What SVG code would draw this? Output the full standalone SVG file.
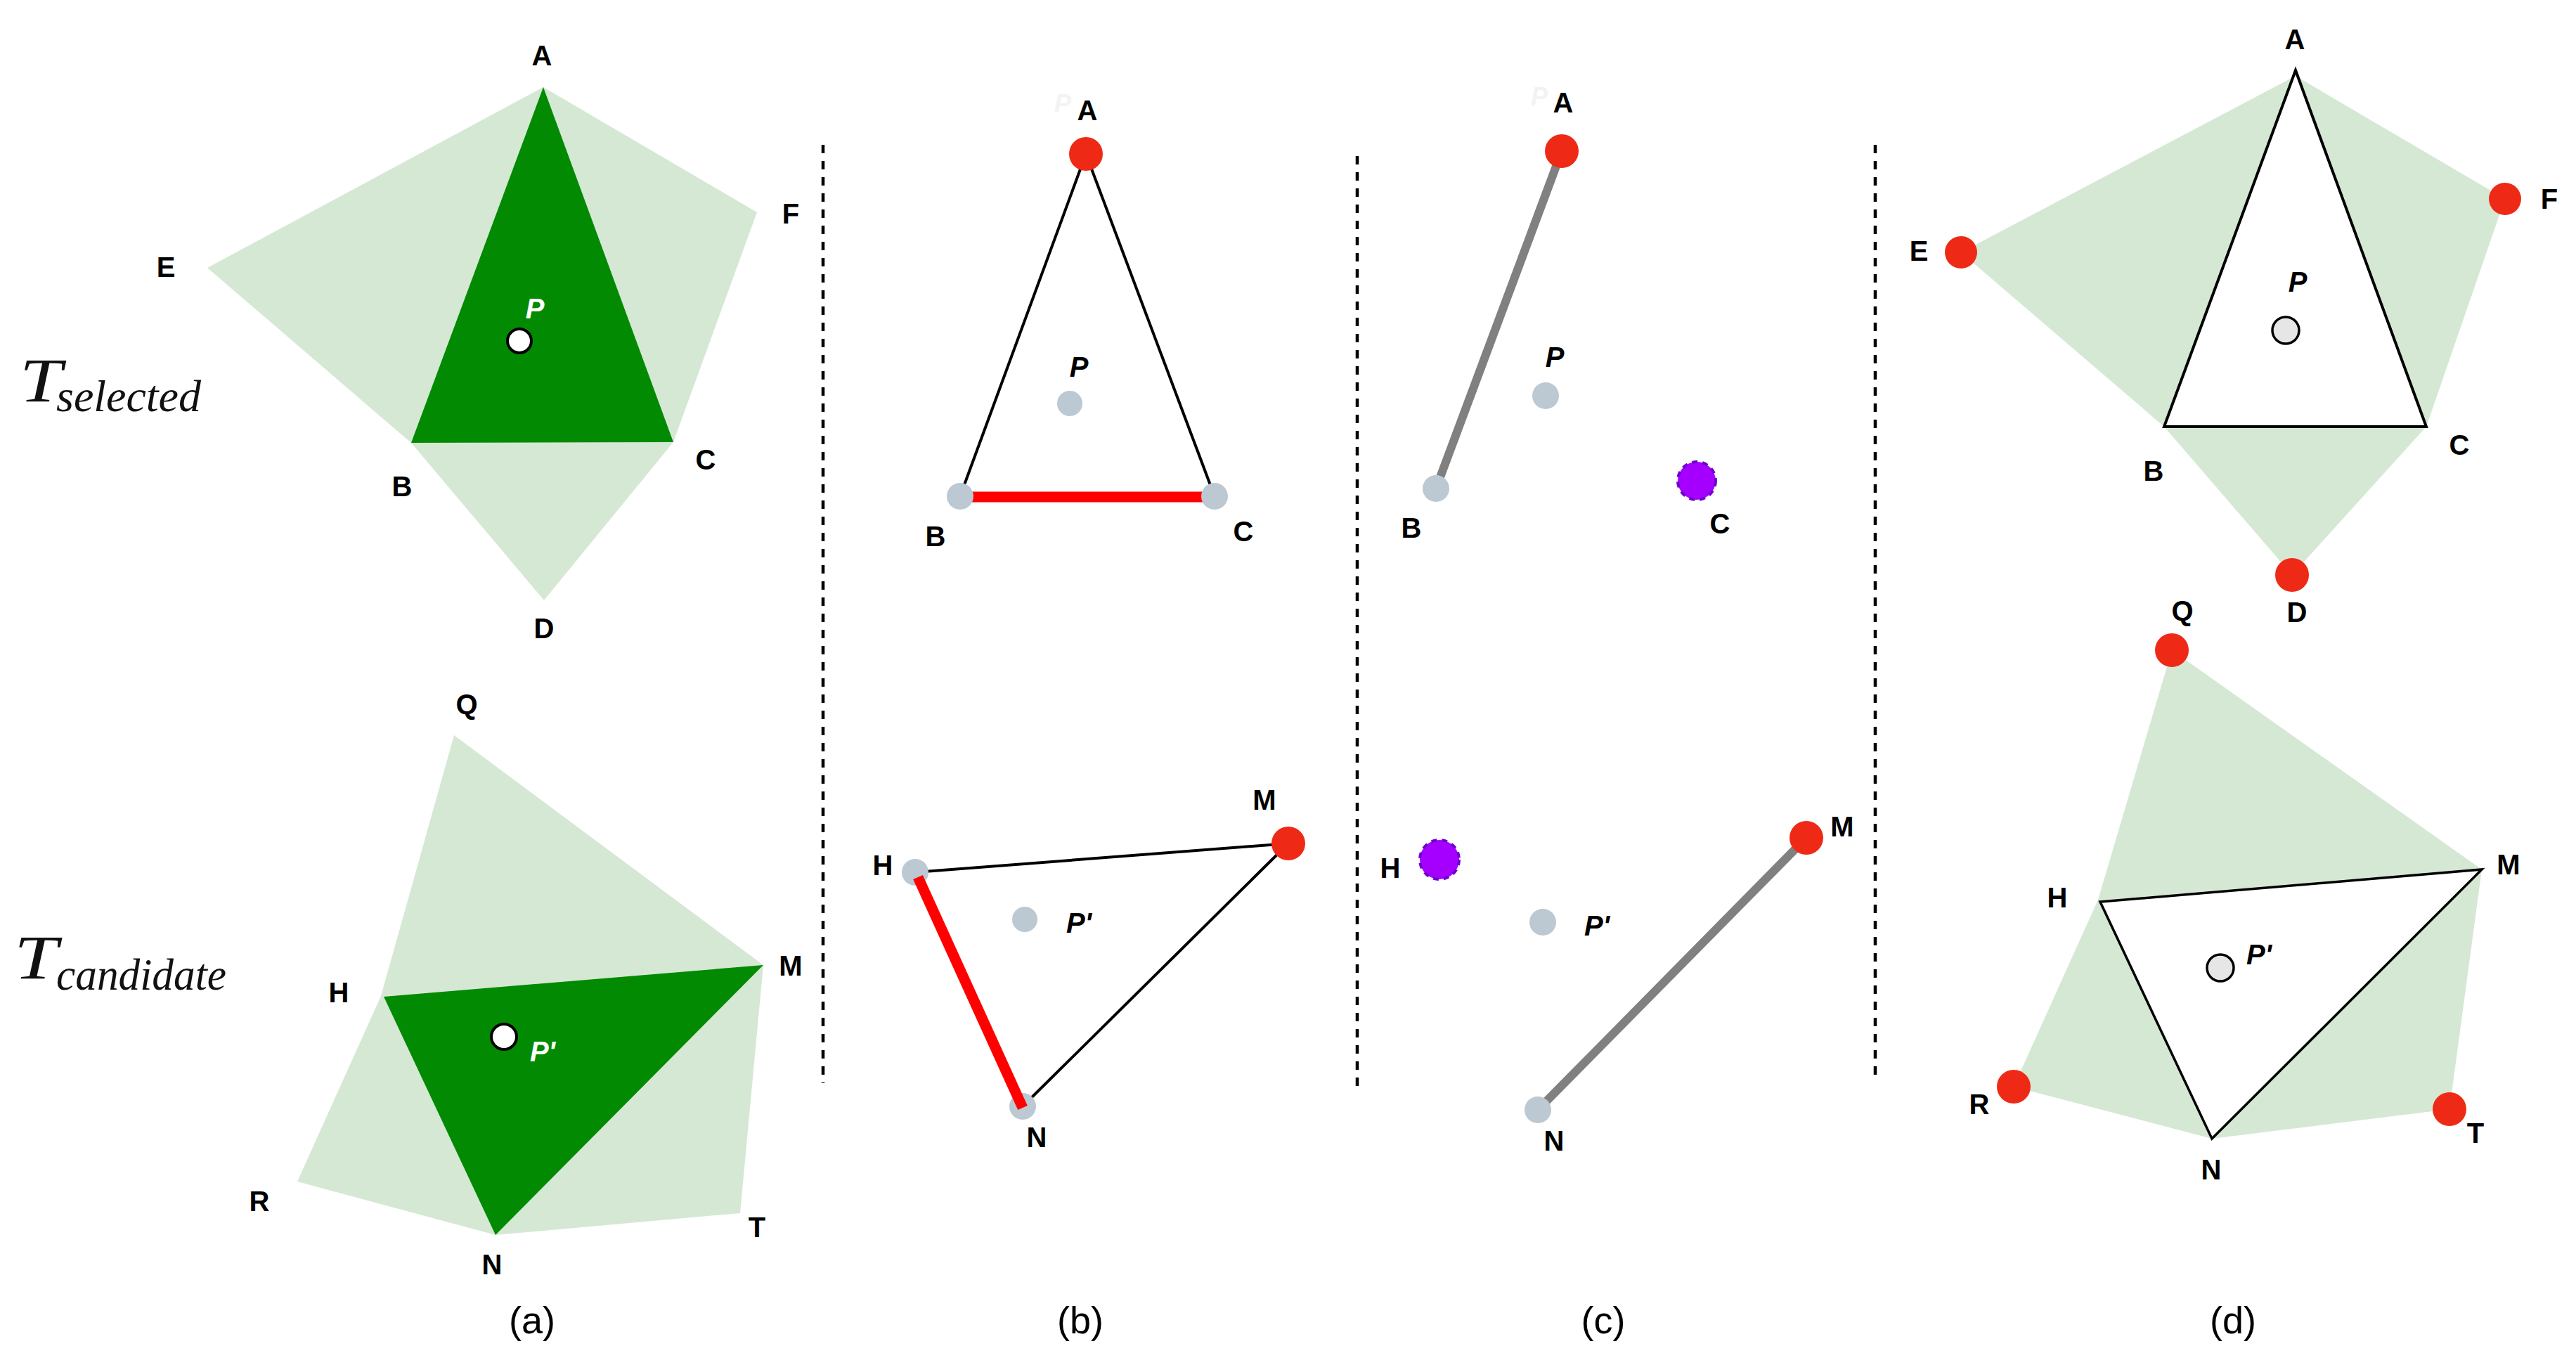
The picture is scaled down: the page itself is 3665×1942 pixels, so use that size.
<svg xmlns="http://www.w3.org/2000/svg" width="3665" height="1942" viewBox="0 0 3665 1942">
<style>
.lbl{font-family:"Liberation Sans",Arial,sans-serif;font-weight:bold;font-size:40px;fill:#000;text-anchor:middle}
.plbl{font-family:"Liberation Sans",Arial,sans-serif;font-weight:bold;font-style:italic;font-size:40px;fill:#000;text-anchor:middle}
.wlbl{font-family:"Liberation Sans",Arial,sans-serif;font-weight:bold;font-style:italic;font-size:40px;fill:#fff;text-anchor:middle}
.ghost{font-family:"Liberation Sans",Arial,sans-serif;font-weight:bold;font-style:italic;font-size:36px;fill:#f3f3f3;text-anchor:middle}
.cap{font-family:"Liberation Sans",Arial,sans-serif;font-size:54px;fill:#000;text-anchor:middle}
.math{font-family:"Liberation Serif","Times New Roman",serif;font-style:italic;fill:#111}
.light{fill:#d5e8d4}
.dark{fill:#028a02}
.red{fill:#ee2a16}
.gray{fill:#bcc8d2}
.purple{fill:#a500ff;stroke:#7000d0;stroke-width:4;stroke-dasharray:8 7}
.sep{stroke:#000;stroke-width:4.5;stroke-dasharray:12 11;fill:none}
.edge{stroke:#000;stroke-width:4;fill:none}
.redge{stroke:#ff0000;stroke-width:15;fill:none}
.gedge{stroke:#808080;stroke-width:12;fill:none}
</style>

<!-- separators -->
<g id="separators">
<line class="sep" x1="1171" y1="206" x2="1171" y2="1541"/>
<line class="sep" x1="1931" y1="222" x2="1931" y2="1554"/>
<line class="sep" x1="2668" y1="206" x2="2668" y2="1535"/>
</g>

<!-- row labels -->
<g id="label-tselected">
<text class="math" x="28" y="571" font-size="88" textLength="60" lengthAdjust="spacingAndGlyphs">T</text>
<text class="math" x="80" y="585" font-size="63" textLength="206" lengthAdjust="spacingAndGlyphs">selected</text>
</g>
<g id="label-tcandidate">
<text class="math" x="20" y="1392" font-size="88" textLength="62" lengthAdjust="spacingAndGlyphs">T</text>
<text class="math" x="80" y="1408" font-size="63" textLength="242" lengthAdjust="spacingAndGlyphs">candidate</text>
</g>

<!-- Panel (a) -->
<g id="panel-a-top">
<polygon class="light" points="295,381 773,124 1077,302 958,629 774,854 585,630"/>
<polygon class="dark" points="773,124 958,629 585,630"/>
</g>
<g id="panel-a-bottom">
<polygon class="light" points="646,1046 1086,1373 1053,1726 705,1757 423,1681 542,1417"/>
<polygon class="dark" points="546,1418 1086,1373 705,1757"/>
</g>

<!-- Connectors -->
<g id="connectors">
<line class="edge" x1="1545" y1="219" x2="1366" y2="706"/>
<line class="edge" x1="1545" y1="219" x2="1728" y2="706"/>
<line class="redge" x1="1366" y1="707" x2="1728" y2="707"/>
<line class="edge" x1="1302" y1="1241" x2="1833" y2="1200"/>
<line class="edge" x1="1833" y1="1200" x2="1455" y2="1574" stroke-width="3"/>
<line class="edge" x1="1302" y1="1241" x2="1455" y2="1574" stroke-width="3"/>
<line class="gedge" x1="2222" y1="215" x2="2043" y2="695"/>
<line class="gedge" x1="2570" y1="1192" x2="2188" y2="1579"/>
</g>

<!-- Panel (d) fills and triangles -->
<g id="panel-d-top">
<polygon class="light" points="2790,359 3266,108 3564,283 3452,607 3261,818 3079,607"/>
<polygon fill="#fff" stroke="#000" stroke-width="4" points="3266,100 3452,607 3079,607"/>
</g>
<g id="panel-d-bottom">
<polygon class="light" points="3090,925 3531,1237 3485,1578 3147,1620 2865,1546 2985,1280"/>
<polygon fill="#fff" stroke="#000" stroke-width="3.5" points="2988,1283 3531,1237 3147,1620"/>
</g>

<!-- Nodes panel (a) top -->
<g id="a-A"><text class="lbl" x="771" y="93">A</text></g>
<g id="a-E"><text class="lbl" x="236" y="394">E</text></g>
<g id="a-F"><text class="lbl" x="1125" y="318">F</text></g>
<g id="a-B"><text class="lbl" x="572" y="706">B</text></g>
<g id="a-C"><text class="lbl" x="1004" y="668">C</text></g>
<g id="a-D"><text class="lbl" x="774" y="908">D</text></g>
<g id="a-P"><circle cx="739" cy="485" r="17" fill="#fff" stroke="#000" stroke-width="4"/><text class="wlbl" x="761" y="453">P</text></g>

<!-- Nodes panel (a) bottom -->
<g id="a-Q"><text class="lbl" x="664" y="1016">Q</text></g>
<g id="a-M"><text class="lbl" x="1125" y="1388">M</text></g>
<g id="a-H"><text class="lbl" x="482" y="1426">H</text></g>
<g id="a-R"><text class="lbl" x="369" y="1723">R</text></g>
<g id="a-T"><text class="lbl" x="1077" y="1760">T</text></g>
<g id="a-N"><text class="lbl" x="700" y="1813">N</text></g>
<g id="a-Pp"><circle cx="717" cy="1475" r="18" fill="#fff" stroke="#000" stroke-width="4"/><text class="wlbl" x="772" y="1510">P'</text></g>

<!-- Nodes panel (b) top -->
<g id="b-A"><text class="ghost" x="1512" y="160">P</text><circle class="red" cx="1545" cy="219" r="24"/><text class="lbl" x="1547" y="171">A</text></g>
<g id="b-B"><circle class="gray" cx="1366" cy="706" r="19"/><text class="lbl" x="1331" y="777">B</text></g>
<g id="b-C"><circle class="gray" cx="1728" cy="706" r="19"/><text class="lbl" x="1769" y="770">C</text></g>
<g id="b-P"><circle class="gray" cx="1522" cy="574" r="18"/><text class="plbl" x="1535" y="536">P</text></g>

<!-- Nodes panel (b) bottom -->
<g id="b-H"><circle class="gray" cx="1302" cy="1241" r="19"/><text class="lbl" x="1256" y="1245">H</text></g>
<g id="b-M"><circle class="red" cx="1833" cy="1200" r="24"/><text class="lbl" x="1799" y="1152">M</text></g>
<g id="b-N"><circle class="gray" cx="1455" cy="1574" r="19"/><text class="lbl" x="1475" y="1632">N</text></g>
<g id="b-Pp"><circle class="gray" cx="1458" cy="1308" r="18"/><text class="plbl" x="1535" y="1327">P'</text></g>
<line class="redge" x1="1306" y1="1248" x2="1455" y2="1576" stroke-width="14"/>

<!-- Nodes panel (c) top -->
<g id="c-A"><text class="ghost" x="2190" y="150">P</text><circle class="red" cx="2222" cy="215" r="24"/><text class="lbl" x="2224" y="160">A</text></g>
<g id="c-B"><circle class="gray" cx="2043" cy="695" r="19"/><text class="lbl" x="2008" y="765">B</text></g>
<g id="c-P"><circle class="gray" cx="2199" cy="563" r="19"/><text class="plbl" x="2212" y="522">P</text></g>
<g id="c-C"><circle class="purple" cx="2414" cy="684" r="27"/><text class="lbl" x="2447" y="759">C</text></g>

<!-- Nodes panel (c) bottom -->
<g id="c-H"><circle class="purple" cx="2048" cy="1223" r="28"/><text class="lbl" x="1978" y="1249">H</text></g>
<g id="c-M"><circle class="red" cx="2570" cy="1192" r="24"/><text class="lbl" x="2621" y="1190">M</text></g>
<g id="c-N"><circle class="gray" cx="2188" cy="1579" r="19"/><text class="lbl" x="2211" y="1637">N</text></g>
<g id="c-Pp"><circle class="gray" cx="2195" cy="1312" r="19"/><text class="plbl" x="2272" y="1331">P'</text></g>

<!-- Nodes panel (d) top -->
<g id="d-A"><text class="lbl" x="3265" y="70">A</text></g>
<g id="d-E"><circle class="red" cx="2790" cy="359" r="23"/><text class="lbl" x="2730" y="371">E</text></g>
<g id="d-F"><circle class="red" cx="3564" cy="283" r="23"/><text class="lbl" x="3627" y="297">F</text></g>
<g id="d-B"><text class="lbl" x="3064" y="684">B</text></g>
<g id="d-C"><text class="lbl" x="3499" y="647">C</text></g>
<g id="d-D"><circle class="red" cx="3261" cy="818" r="24"/><text class="lbl" x="3268" y="885">D</text></g>
<g id="d-P"><circle cx="3252" cy="470" r="19" fill="#e6e6e6" stroke="#000" stroke-width="3.5"/><text class="plbl" x="3269" y="415">P</text></g>

<!-- Nodes panel (d) bottom -->
<g id="d-Q"><circle class="red" cx="3090" cy="925" r="24"/><text class="lbl" x="3105" y="883">Q</text></g>
<g id="d-M"><text class="lbl" x="3569" y="1244">M</text></g>
<g id="d-H"><text class="lbl" x="2927" y="1291">H</text></g>
<g id="d-R"><circle class="red" cx="2865" cy="1546" r="24"/><text class="lbl" x="2816" y="1585">R</text></g>
<g id="d-T"><circle class="red" cx="3485" cy="1578" r="24"/><text class="lbl" x="3522" y="1626">T</text></g>
<g id="d-N"><text class="lbl" x="3146" y="1678">N</text></g>
<g id="d-Pp"><circle cx="3159" cy="1377" r="19" fill="#e6e6e6" stroke="#000" stroke-width="3.5"/><text class="plbl" x="3214" y="1372">P'</text></g>

<!-- captions -->
<g id="captions">
<text class="cap" x="757" y="1897">(a)</text>
<text class="cap" x="1537" y="1897">(b)</text>
<text class="cap" x="2281" y="1897">(c)</text>
<text class="cap" x="3177" y="1897">(d)</text>
</g>
</svg>
